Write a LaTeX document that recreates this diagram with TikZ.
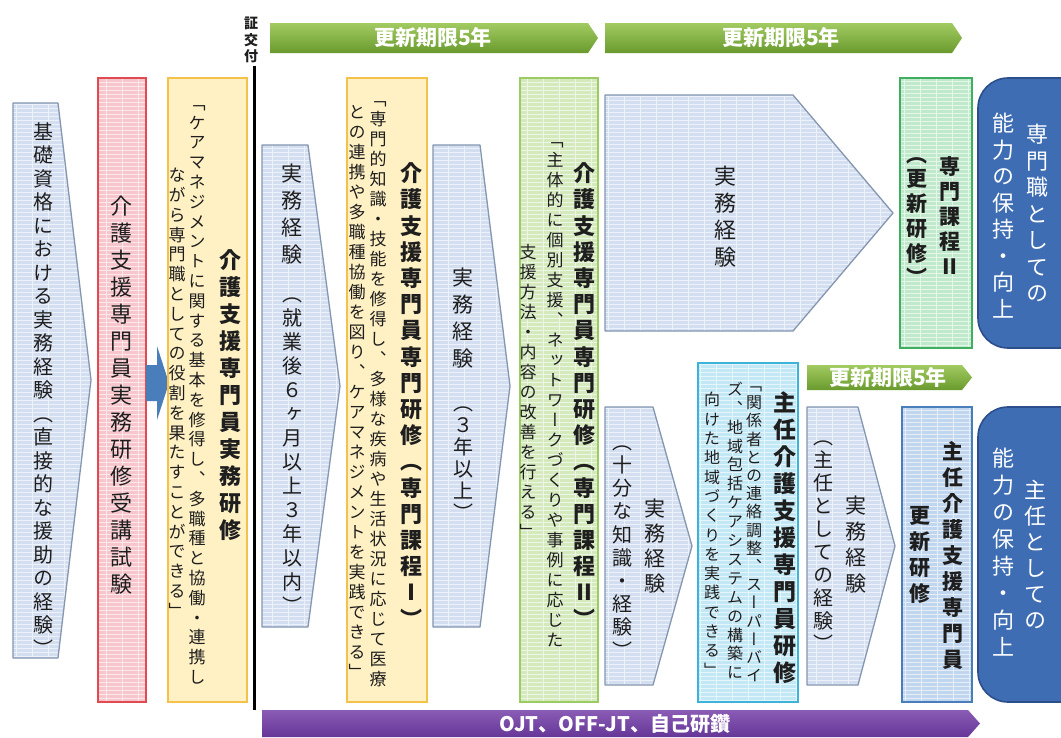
\documentclass[tikz,border=0pt]{standalone}
\usepackage{fontspec}
\newfontfamily\jpv[RawFeature=+vert]{Noto Sans CJK JP}
\newfontfamily\jph{Noto Sans CJK JP}
\newcommand\fs[1]{\fontsize{#1}{#1}\selectfont}
\ExplSyntaxOn
\NewDocumentCommand\vcol{mm}{
  \vbox{\offinterlineskip
    \tl_map_inline:nn {#2}{
      \hbox_to_wd:nn{1em}{\hss\vbox_to_ht:nn{#1pt}{\vss\hbox:n{\vrule~height~.88em~depth~.12em~width~0pt\relax ##1}\vss}\hss}
    }}}
\ExplSyntaxOff
\definecolor{txt}{HTML}{1E1E1E}
\definecolor{sbfill}{HTML}{D3DEF0}
\definecolor{sbdraw}{HTML}{8496B0}
\definecolor{redfill}{HTML}{F7C6CC}
\definecolor{reddraw}{HTML}{E04A50}
\definecolor{yelfill}{HTML}{FFF1C4}
\definecolor{yeldraw}{HTML}{F4C24A}
\definecolor{grnfill}{HTML}{D4E9BC}
\definecolor{grndraw}{HTML}{9CCB64}
\definecolor{cyanfill}{HTML}{C2E8F5}
\definecolor{cyandraw}{HTML}{3DB3DA}
\definecolor{mintfill}{HTML}{C0E9CC}
\definecolor{mintdraw}{HTML}{3FAE60}
\definecolor{bluefill}{HTML}{C0D5EE}
\definecolor{bluedraw}{HTML}{4A7EBB}
\definecolor{capfill}{HTML}{3E6DB3}
\definecolor{capdraw}{HTML}{2C4F8C}
\definecolor{arrowblue}{HTML}{4A7EBB}
\definecolor{bantop}{HTML}{A2CB62}
\definecolor{banbot}{HTML}{699A2D}
\definecolor{purtop}{HTML}{8A5CB5}
\definecolor{purbot}{HTML}{653697}
\begin{document}
\begin{tikzpicture}[x=1pt,y=-1pt,
  gridln/.style={draw=white, line width=0.6pt, opacity=0.6},
  gridtex/.style={path picture={\draw[gridln, xstep=16pt, ystep=4pt] (path picture bounding box.south west) grid (path picture bounding box.north east);}},
  sb/.style={fill=sbfill, draw=sbdraw, line width=1.3pt, line join=round, gridtex},
  rbox/.style={rectangle, inner sep=0pt, outer sep=0pt, line width=1.6pt},
  capbox/.style={rectangle, rounded corners=30pt, fill=capfill, draw=capdraw, line width=1.6pt, inner sep=0pt, minimum width=112pt},
  vt/.style={inner sep=0pt, outer sep=0pt, text=txt},
  vw/.style={inner sep=0pt, outer sep=0pt, text=white},
  ban/.style={top color=bantop, bottom color=banbot, draw=none},
  bant/.style={inner sep=0pt, text=white, font=\jph\bfseries\fs{21}},
  pur/.style={top color=purtop, bottom color=purbot, draw=none},
]
\path[use as bounding box] (0,0) rectangle (1061,737);
\fill[white] (0,0) rectangle (1061,737);
\clip (0,0) rectangle (1061,737);

% left pentagon
\path[sb] (13,103) -- (58,103) -- (91,380) -- (58,658) -- (13,658) -- cycle;
\node[vt, font=\jpv\fs{20}] (kiso) at (43,390) {\vcol{23.5}{基礎資格における実務経験（直接的な援助の経験）}};

% exam box
\node[rbox, fill=redfill, draw=reddraw, gridtex, minimum width=48pt, minimum height=624pt] (exam) at (122,390) {};
\node[vt, font=\jpv\fs{22}] (examt) at (121,395) {\vcol{27}{介護支援専門員実務研修受講試験}};

% blue arrow
\path[fill=arrowblue] (146,365) -- (157,365) -- (157,346) -- (169,383) -- (157,420) -- (157,401) -- (146,401) -- cycle;

% practical training
\node[rbox, fill=yelfill, draw=yeldraw, minimum width=79pt, minimum height=624pt] (jitsu) at (207.5,390) {};
\node[vt, font=\jpv\bfseries\fs{22}] (jitsut) at (230,395) {\vcol{27}{介護支援専門員実務研修}};
\node[vt, font=\jpv\fs{17}] (jitsua) at (197,390) {\vcol{19.8}{「ケアマネジメントに関する基本を修得し、多職種と協働・連携し}};
\node[vt, font=\jpv\fs{17}] (jitsub) at (177,393) {\vcol{19.8}{ながら専門職としての役割を果たすことができる」}};

% certificate line
\node[vt, font=\jpv\bfseries\fs{14}] (sho) at (251,40) {\vcol{16.5}{証交付}};
\coordinate (ltop) at (254,66);
\coordinate (lbot) at (254,710);
\draw[line width=3pt] (ltop) -- (lbot);

% renewal banners
\path[ban] (270,23) -- (588,23) -- (598,38) -- (588,53) -- (270,53) -- cycle;
\node[bant] (ban1) at (433,38) {更新期限5年};
\path[ban] (605,23) -- (952,23) -- (962,38) -- (952,53) -- (605,53) -- cycle;
\node[bant] (ban2) at (781,38) {更新期限5年};
\path[ban] (807,365) -- (962,365) -- (972,377.5) -- (962,390) -- (807,390) -- cycle;
\node[bant] (ban3) at (888,377.5) {更新期限5年};

% experience A
\path[sb] (262,145) -- (308,145) -- (340,386) -- (308,627) -- (262,627) -- cycle;
\node[vt, font=\jpv\fs{21}] (expa1) at (292,214) {\vcol{27}{実務経験}};
\node[vt, font=\jpv\fs{20}] (expa2) at (292,450) {\vcol{24}{（就業後６ヶ月以上３年以内）}};

% specialised course I
\node[rbox, fill=yelfill, draw=yeldraw, minimum width=80pt, minimum height=624pt] (sen1) at (387,390) {};
\node[vt, font=\jpv\bfseries\fs{22}] (sen1t) at (411,396) {\vcol{26.2}{介護支援専門員専門研修（専門課程Ⅰ）}};
\node[vt, font=\jpv\fs{17}] (sen1a) at (378,389) {\vcol{20}{「専門的知識・技能を修得し、多様な疾病や生活状況に応じて医療}};
\node[vt, font=\jpv\fs{17}] (sen1b) at (357,392) {\vcol{20}{との連携や多職種協働を図り、ケアマネジメントを実践できる」}};

% experience B
\path[sb] (433,145) -- (480,145) -- (510,386) -- (480,627) -- (433,627) -- cycle;
\node[vt, font=\jpv\fs{21}] (expb1) at (463,318) {\vcol{27}{実務経験}};
\node[vt, font=\jpv\fs{20}] (expb2) at (463,458) {\vcol{22}{（３年以上）}};

% specialised course II
\node[rbox, fill=grnfill, draw=grndraw, gridtex, minimum width=78pt, minimum height=624pt] (sen2) at (559,390) {};
\node[vt, font=\jpv\bfseries\fs{22}] (sen2t) at (584,396) {\vcol{26.2}{介護支援専門員専門研修（専門課程Ⅱ）}};
\node[vt, font=\jpv\fs{17}] (sen2a) at (555,390) {\vcol{20}{「主体的に個別支援、ネットワークづくりや事例に応じた}};
\node[vt, font=\jpv\fs{17}] (sen2b) at (528,392) {\vcol{20}{支援方法・内容の改善を行える」}};

% experience C
\path[sb] (605,95) -- (793,95) -- (893,213) -- (793,331) -- (605,331) -- cycle;
\node[vt, font=\jpv\fs{22}] (expc) at (725,217) {\vcol{27}{実務経験}};

% experience D
\path[sb] (605,407) -- (653,407) -- (692,546) -- (653,685) -- (605,685) -- cycle;
\node[vt, font=\jpv\fs{21}] (expd1) at (655,546) {\vcol{25}{実務経験}};
\node[vt, font=\jpv\fs{20}] (expd2) at (622,546) {\vcol{23.2}{（十分な知識・経験）}};

% chief training
\node[rbox, fill=cyanfill, draw=cyandraw, gridtex, minimum width=100pt, minimum height=339pt] (shu) at (748,532.5) {};
\node[vt, font=\jpv\bfseries\fs{23}] (shut) at (785,538) {\vcol{27}{主任介護支援専門員研修}};
\node[vt, font=\jpv\fs{16}] (shua) at (754,530) {\vcol{18.2}{「関係者との連絡調整、スーパーバイ}};
\node[vt, font=\jpv\fs{16}] (shub) at (735,531) {\vcol{18.9}{ズ、地域包括ケアシステムの構築に}};
\node[vt, font=\jpv\fs{16}] (shuc) at (712,535) {\vcol{19.3}{向けた地域づくりを実践できる」}};

% experience E
\path[sb] (807,407) -- (858,407) -- (895,546) -- (858,685) -- (807,685) -- cycle;
\node[vt, font=\jpv\fs{21}] (expe1) at (856,545) {\vcol{26}{実務経験}};
\node[vt, font=\jpv\fs{20}] (expe2) at (823,540) {\vcol{23}{（主任としての経験）}};

% renewal course II
\node[rbox, fill=mintfill, draw=mintdraw, gridtex, minimum width=72pt, minimum height=270pt] (ko2) at (936,213) {};
\node[vt, font=\jpv\bfseries\fs{21}] (ko2a) at (950,217) {\vcol{25}{専門課程Ⅱ}};
\node[vt, font=\jpv\bfseries\fs{21}] (ko2b) at (917,216) {\vcol{24.7}{（更新研修）}};

% chief renewal
\node[rbox, fill=bluefill, draw=bluedraw, gridtex, minimum width=70pt, minimum height=295pt] (shk) at (937,554.5) {};
\node[vt, font=\jpv\bfseries\fs{21}] (shka) at (953,556) {\vcol{26}{主任介護支援専門員}};
\node[vt, font=\jpv\bfseries\fs{21}] (shkb) at (920,555) {\vcol{26}{更新研修}};

% capability boxes
\node[capbox, minimum height=270pt] (cap1) at (1034,213) {};
\node[vw, font=\jpv\fs{22}] (cap1a) at (1037,214) {\vcol{26.5}{専門職としての}};
\node[vw, font=\jpv\fs{22}] (cap1b) at (1003,216) {\vcol{26.5}{能力の保持・向上}};
\node[capbox, minimum height=295pt] (cap2) at (1034,554.5) {};
\node[vw, font=\jpv\fs{22}] (cap2a) at (1035,555) {\vcol{26}{主任としての}};
\node[vw, font=\jpv\fs{22}] (cap2b) at (1003,553) {\vcol{27}{能力の保持・向上}};

% OJT banner
\path[pur] (262,710) -- (968,710) -- (980,723.5) -- (968,737) -- (262,737) -- cycle;
\node[inner sep=0pt, text=white, font=\jph\bfseries\fs{20}] (ojt) at (615,723.5) {OJT、OFF-JT、自己研鑽};
\end{tikzpicture}
\end{document}
